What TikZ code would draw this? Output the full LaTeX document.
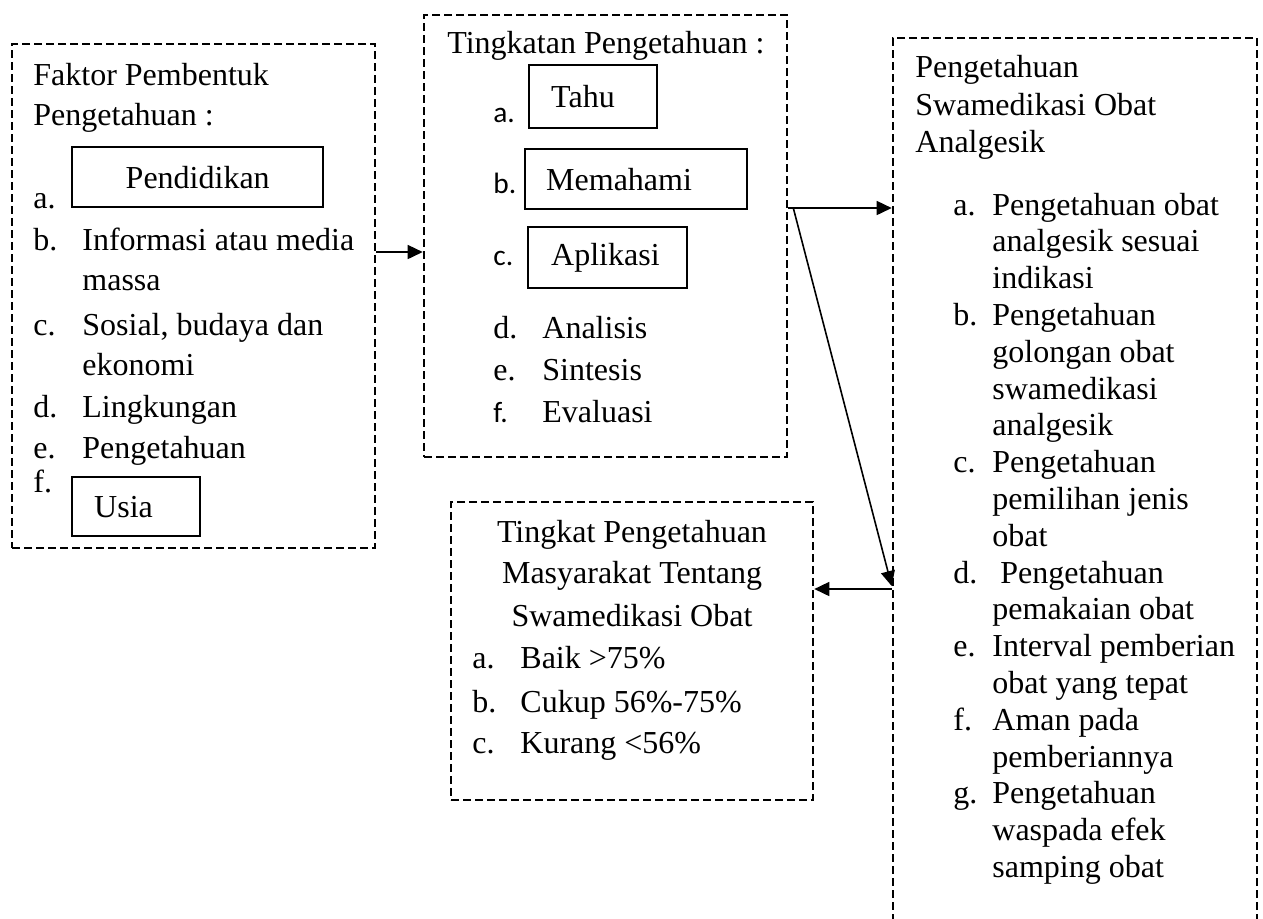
\documentclass[tikz,border=0pt]{standalone}
\usepackage{fontspec}
\setmainfont{Liberation Serif}
\newfontfamily\labelfont{Carlito}
\usetikzlibrary{arrows.meta}

\begin{document}
\begin{tikzpicture}[x=0.5pt, y=-0.5pt,
  txt/.style={anchor=base west, inner sep=0pt, font=\fontsize{16}{19}\selectfont},
  ctxt/.style={txt, anchor=base},
  sl/.style={txt, font=\labelfont\fontsize{14.7}{17}\selectfont},
  dbox/.style={draw, line width=1.3pt, dash pattern=on 4pt off 2pt, inner sep=0pt},
  ibox/.style={draw, line width=1.2pt, inner sep=0pt, anchor=north west, font=\fontsize{16}{19}\selectfont},
  arr/.style={line width=0.8pt, -{Triangle[length=7.5pt, width=7pt]}}]
\useasboundingbox (0,0) rectangle (1263,918);

% dashed containers
\node[dbox, minimum width=181.5pt, minimum height=252pt] (faktor) at (193.5,296) {};
\node[dbox, minimum width=181.5pt, minimum height=221pt] (tingkat) at (605.5,236) {};
\node[dbox, minimum width=182pt, minimum height=446pt] (swamed) at (1075,484) {};
\node[dbox, minimum width=181pt, minimum height=149pt] (tmas) at (632,651) {};

% Faktor Pembentuk Pengetahuan
\node[txt] (ft1) at (33,85) {Faktor Pembentuk};
\node[txt] (ft2) at (33,125) {Pengetahuan :};
\node[txt] (fa) at (33,208) {a.};
\node[ibox, minimum width=125.5pt, minimum height=30pt] (pend) at (71,146) {Pendidikan};
\foreach \y/\l [count=\i] in {250/b., 335/c., 417/d., 458/e., 492/f.}
  \node[txt] (fl\i) at (33,\y) {\l};
\foreach \y/\t [count=\i] in {250/Informasi atau media, 290/massa, 335/{Sosial, budaya dan}, 375/ekonomi, 417/Lingkungan, 458/Pengetahuan}
  \node[txt] (fi\i) at (82,\y) {\t};
\node[ibox, minimum width=64pt, minimum height=29.5pt, text width=42pt, align=left] (usia) at (71,476) {Usia};

% Tingkatan Pengetahuan
\node[txt] (tt) at (447,53) {Tingkatan Pengetahuan :};
\node[sl] (ta) at (493,122) {a.};
\node[ibox, minimum width=64pt, minimum height=31.5pt, text width=42pt, align=left] (tahu) at (528,64) {Tahu};
\node[sl] (tb) at (493,193) {b.};
\node[ibox, minimum width=111pt, minimum height=30pt, text width=90pt, align=left] (paham) at (524,148) {Memahami};
\node[sl] (tc) at (493,265) {c.};
\node[ibox, minimum width=79.5pt, minimum height=30.5pt, text width=56.5pt, align=left] (apli) at (527,226) {Aplikasi};
\node[txt] (td) at (493,338) {d.};
\node[txt] (te) at (493,380) {e.};
\node[sl] (tf) at (493,422) {f.};
\foreach \y/\t [count=\i] in {338/Analisis, 380/Sintesis, 422/Evaluasi}
  \node[txt] (tl\i) at (542,\y) {\t};

% Pengetahuan Swamedikasi Obat Analgesik
\foreach \y/\t [count=\i] in {77/Pengetahuan, 115/Swamedikasi Obat, 152/Analgesik}
  \node[txt] (sh\i) at (915,\y) {\t};
\foreach \k/\l [count=\i] in {0/a., 3/b., 7/c., 10/d., 12/e., 14/f., 16/g.}
  \node[txt] (sl\i) at (953,{215+36.8*\k}) {\l};
\foreach \t [count=\k from 0] in {Pengetahuan obat, analgesik sesuai, indikasi, Pengetahuan, golongan obat, swamedikasi, analgesik, Pengetahuan, pemilihan jenis, obat, {\ Pengetahuan}, pemakaian obat, Interval pemberian, obat yang tepat, Aman pada, pemberiannya, Pengetahuan, waspada efek, samping obat}
  \node[txt] (si\k) at (992,{215+36.8*\k}) {\t};

% Tingkat Pengetahuan Masyarakat
\foreach \y/\t [count=\i] in {542/Tingkat Pengetahuan, 583/Masyarakat Tentang, 626/Swamedikasi Obat}
  \node[ctxt] (mh\i) at (632,\y) {\t};
\foreach \y/\l/\t [count=\i] in {668/a./Baik >75\%, 712/b./Cukup 56\%-75\%, 753/c./Kurang <56\%}{
  \node[txt] (ml\i) at (472,\y) {\l};
  \node[txt] (mi\i) at (520,\y) {\t};
}

% connectors
\coordinate (s1) at ([yshift=22pt]faktor.east);
\draw[arr] (s1) -- (s1 -| tingkat.west);
\coordinate (s2) at ([yshift=14pt]tingkat.east);
\draw[arr] (s2) -- (s2 -| swamed.west);
\draw[arr] ([xshift=2.5pt]s2) -- ([yshift=-51pt]swamed.west);
\coordinate (s3) at ([yshift=-52.5pt]swamed.west);
\draw[arr] (s3) -- (s3 -| tmas.east);
\end{tikzpicture}
\end{document}
